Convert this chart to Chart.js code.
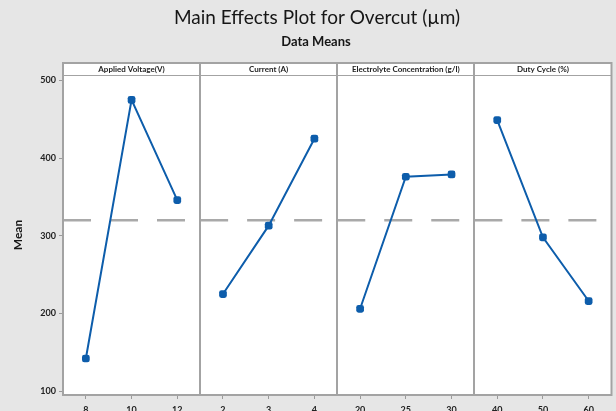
<!DOCTYPE html>
<html>
<head>
<meta charset="utf-8">
<script src="https://cdn.jsdelivr.net/npm/chart.js@4.4.1/dist/chart.umd.min.js"></script>
<style>
  html, body { margin: 0; padding: 0; background: #e6e6e6; }
  #wrap { width: 616px; height: 411px; position: relative; }
</style>
</head>
<body>
<div id="wrap"><canvas id="c" width="616" height="411"></canvas></div>
<script>
// ---- Data ----
const chartTitle = "Main Effects Plot for Overcut (µm)";
const chartSubtitle = "Data Means";
const yAxisTitle = "Mean";
const factorNames = ["Applied Voltage(V)", "Current (A)", "Electrolyte Concentration (g/l)", "Duty Cycle (%)"];
const voltageLevels = ["8", "10", "12"];
const currentLevels = ["2", "3", "4"];
const concentrationLevels = ["20", "25", "30"];
const dutyCycleLevels = ["40", "50", "60"];
const voltageMeans = [142, 475, 346];
const currentMeans = [225, 313, 425];
const concentrationMeans = [206, 376, 379];
const dutyCycleMeans = [449, 298, 216];
const grandMean = 320;
const yTicks = [100, 200, 300, 400, 500];
const yMin = 95, yMax = 507;

const levelSets = [voltageLevels, currentLevels, concentrationLevels, dutyCycleLevels];
const meanSets = [voltageMeans, currentMeans, concentrationMeans, dutyCycleMeans];
const allLevelLabels = [].concat(...levelSets);

const lineColor = "#0d5dab";
const datasets = [];
meanSets.forEach((vals, p) => {
  datasets.push({
    data: [{x: p * 3 - 0.5, y: grandMean}, {x: p * 3 + 2.5, y: grandMean}],
    borderColor: "#a9a9a9",
    borderWidth: 2.5,
    borderDash: [28, 19],
    pointRadius: 0,
    order: 2
  });
});
meanSets.forEach((vals, p) => {
  datasets.push({
    data: vals.map((v, i) => ({x: p * 3 + i, y: v})),
    borderColor: lineColor,
    backgroundColor: lineColor,
    borderWidth: 2,
    pointStyle: 'rectRounded',
    pointRadius: 4.5,
    pointBorderWidth: 0,
    pointBackgroundColor: lineColor,
    order: 1
  });
});

const fontFam = "Lato, 'Open Sans', sans-serif";

const framePlugin = {
  id: 'frame',
  beforeDraw(chart) {
    const ctx = chart.ctx;
    const a = chart.chartArea;
    ctx.save();
    ctx.fillStyle = "#e6e6e6";
    ctx.fillRect(0, 0, chart.width, chart.height);
    ctx.fillStyle = "#ffffff";
    ctx.fillRect(a.left, a.top, a.right - a.left, a.bottom - a.top);
    const hTop = a.top - 12;
    ctx.fillRect(a.left, hTop, a.right - a.left, 12);
    ctx.fillStyle = "#161616";
    ctx.textAlign = "center";
    ctx.textBaseline = "middle";
    ctx.font = "19px " + fontFam;
    ctx.fillText(chartTitle, 317, 18);
    ctx.font = "bold 13px " + fontFam;
    ctx.fillText(chartSubtitle, 316, 42);
    ctx.save();
    ctx.translate(18, (a.top + a.bottom) / 2);
    ctx.rotate(-Math.PI / 2);
    ctx.font = "bold 12px " + fontFam;
    ctx.fillText(yAxisTitle, 0, 0);
    ctx.restore();
    ctx.restore();
  },
  afterDraw(chart) {
    const ctx = chart.ctx;
    const a = chart.chartArea;
    const xs = chart.scales.x;
    const hTop = a.top - 12;
    ctx.save();
    ctx.strokeStyle = "#a3a3a3";
    ctx.lineWidth = 2;
    ctx.strokeRect(a.left, hTop, a.right - a.left, a.bottom - hTop);
    ctx.lineWidth = 1.2;
    ctx.beginPath();
    ctx.moveTo(a.left, a.top + 0.5);
    ctx.lineTo(a.right, a.top + 0.5);
    ctx.stroke();
    ctx.lineWidth = 2;
    for (let p = 1; p < 4; p++) {
      const px = Math.round(xs.getPixelForValue(p * 3 - 0.5));
      ctx.beginPath();
      ctx.moveTo(px, hTop);
      ctx.lineTo(px, a.bottom);
      ctx.stroke();
    }
    ctx.fillStyle = "#222";
    ctx.font = "bold 8px " + fontFam;
    ctx.textAlign = "center";
    ctx.textBaseline = "middle";
    factorNames.forEach((n, p) => {
      const cx = xs.getPixelForValue(p * 3 + 1);
      ctx.fillText(n, cx, hTop + 6.5);
    });
    ctx.restore();
  }
};

new Chart(document.getElementById('c'), {
  type: 'line',
  data: { datasets },
  options: {
    responsive: false,
    animation: false,
    devicePixelRatio: 1,
    layout: { padding: { left: 0, right: 3, top: 75, bottom: 0 } },
    plugins: { legend: { display: false }, tooltip: { enabled: false }, title: { display: false } },
    scales: {
      x: {
        type: 'linear',
        min: -0.5,
        max: 11.5,
        afterBuildTicks(scale) { scale.ticks = allLevelLabels.map((l, i) => ({value: i})); },
        afterFit(scale) { scale.height = 16; },
        grid: { drawOnChartArea: false, drawTicks: true, tickLength: 4, color: "#9a9a9a", lineWidth: 1 },
        border: { display: false },
        ticks: {
          autoSkip: false,
          maxRotation: 0,
          padding: 6,
          color: "#222",
          font: { size: 9, family: fontFam, weight: 'bold' },
          callback: (v, i) => allLevelLabels[i]
        }
      },
      y: {
        type: 'linear',
        min: yMin,
        max: yMax,
        afterBuildTicks(scale) { scale.ticks = yTicks.map(v => ({value: v})); },
        afterFit(scale) { scale.width = 63; },
        grid: { drawOnChartArea: false, drawTicks: true, tickLength: 4, color: "#9a9a9a" },
        border: { display: false },
        ticks: {
          padding: 3,
          color: "#222",
          font: { size: 9, family: fontFam, weight: 'bold' }
        }
      }
    }
  },
  plugins: [framePlugin]
});
</script>
</body>
</html>
